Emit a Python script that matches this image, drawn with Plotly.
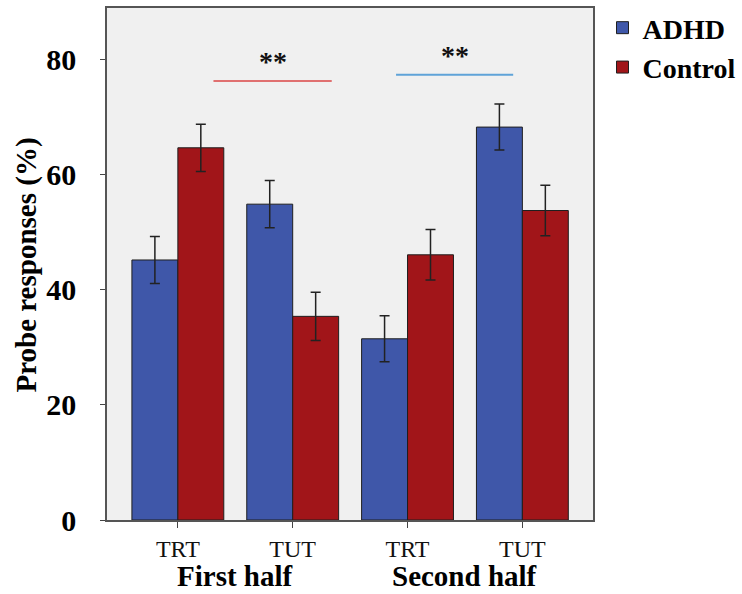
import plotly.graph_objects as go

# ---- data ----
halves = ["First half", "Second half"]
conditions = ["TRT", "TUT"]
categories = ["First half TRT", "First half TUT", "Second half TRT", "Second half TUT"]
tick_labels = ["TRT", "TUT", "TRT", "TUT"]

adhd = [45.2, 54.9, 31.5, 68.3]
adhd_err = [4.1, 4.1, 4.0, 4.0]
control = [64.7, 35.4, 46.1, 53.8]
control_err = [4.1, 4.2, 4.4, 4.4]

y_ticks = [0, 20, 40, 60, 80]

# significance brackets (category-index units, y in %)
sig_x0 = [0.31, 1.90]
sig_x1 = [1.34, 2.92]
sig_y = [76.3, 77.4]
sig_text = ["**", "**"]
sig_colors = ["#e07070", "#5fa3d8"]

SERIF = "Liberation Serif"

fig = go.Figure()
fig.add_trace(go.Bar(
    x=categories, y=adhd, name="<b>ADHD</b>",
    marker=dict(color="#3f57a9", line=dict(color="#1f1f1f", width=1)),
    error_y=dict(type="data", array=adhd_err, color="#222222", thickness=1.5, width=5),
))
fig.add_trace(go.Bar(
    x=categories, y=control, name="<b>Control</b>",
    marker=dict(color="#a11519", line=dict(color="#1f1f1f", width=1)),
    error_y=dict(type="data", array=control_err, color="#222222", thickness=1.5, width=5),
))

for x0, x1, y, t, c in zip(sig_x0, sig_x1, sig_y, sig_text, sig_colors):
    fig.add_shape(type="line", xref="x", yref="y", x0=x0, x1=x1, y0=y, y1=y,
                  line=dict(color=c, width=2))
    fig.add_annotation(x=(x0 + x1) / 2, y=y, xref="x", yref="y", text=t,
                       showarrow=False, yanchor="bottom", yshift=2,
                       font=dict(family=SERIF, size=28, color="#111111", weight="bold"))

for i, h in enumerate(halves):
    fig.add_annotation(x=2 * i + 0.5, y=-0.109, xref="x", yref="paper",
                       text=h, showarrow=False,
                       xanchor="center", yanchor="middle",
                       font=dict(family=SERIF, size=29, color="#000000", weight="bold"))

fig.add_annotation(x=-0.1646, y=0.497, xref="paper", yref="paper",
                   text="Probe responses (%)", textangle=-90, showarrow=False,
                   xanchor="center", yanchor="middle",
                   font=dict(family=SERIF, size=29, color="#000000", weight="bold"))

fig.update_layout(
    width=742, height=594,
    font=dict(family=SERIF, color="#000000"),
    margin=dict(l=107, r=149, t=6, b=74),
    paper_bgcolor="white", plot_bgcolor="#f0f0f0",
    barmode="group", bargap=0.2, bargroupgap=0,
    showlegend=True,
    legend=dict(xref="container", yref="container", x=0.812, y=0.995,
                xanchor="left", yanchor="top",
                font=dict(family=SERIF, size=28, color="#000000"),
                bgcolor="rgba(0,0,0,0)", tracegroupgap=0),
    xaxis=dict(type="category", range=[-0.617, 3.615],
               tickmode="array", tickvals=categories, ticktext=tick_labels,
               ticks="outside", ticklen=6, tickcolor="#444444",
               tickfont=dict(family=SERIF, size=24, color="#111111"),
               showline=True, linecolor="#555555", linewidth=1.5, mirror=True,
               showgrid=False, zeroline=False),
    yaxis=dict(range=[0, 89], tickvals=y_ticks,
               ticks="outside", ticklen=5, tickcolor="#444444",
               tickfont=dict(family=SERIF, size=30, color="#000000", weight="bold"),
               ticklabelstandoff=18,
               showline=True, linecolor="#555555", linewidth=1.5, mirror=True,
               showgrid=False, zeroline=False),
)

fig.write_html("out.html")
